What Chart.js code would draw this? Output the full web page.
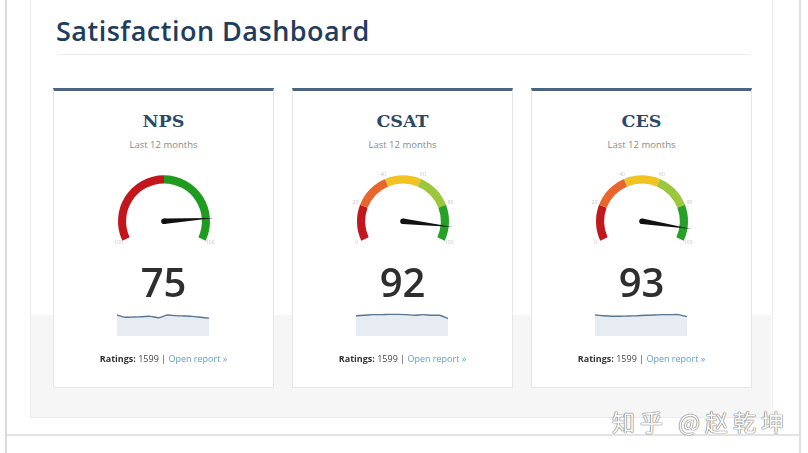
<!DOCTYPE html>
<html>
<head>
<meta charset="utf-8">
<script src="https://cdn.jsdelivr.net/npm/chart.js@4"></script>
<style>
  body { margin: 0; width: 808px; height: 453px; background: #fff; position: relative; overflow: hidden; font-family: "Open Sans", sans-serif; }
  .abs { position: absolute; }
  .line-left { left: 5px; top: 0; width: 2px; height: 453px; background: #dadada; }
  .line-right { left: 799px; top: 0; width: 2px; height: 453px; background: #dedede; }
  .line-bottom { left: 7px; top: 434px; width: 792px; height: 2px; background: #e3e3e3; }
  .panel { left: 30px; top: -1px; width: 741px; height: 418px; border: 1px solid #ececec; border-top: none; background: #fff; }
  .band { left: 31px; top: 315px; width: 740px; height: 102px; background: #f6f6f6; }
  .title { left: 56px; top: 12px; font-size: 27px; font-weight: 600; color: #1f3d5e; letter-spacing: 0.5px; }
  .title-rule { left: 58px; top: 54px; width: 692px; height: 1px; background: #ebebeb; }
  .card { top: 88px; width: 219px; height: 296px; background: #fff; border: 1px solid #e6e6e6; border-top: 3px solid #4a6482; }
  .card-title { left: 0; width: 100%; top: 20px; text-align: center; font-family: "DejaVu Serif", serif; font-weight: bold; font-size: 17.5px; color: #2d4866; }
  .card-sub { left: 0; width: 100%; top: 47px; text-align: center; font-size: 9.5px; color: #8a8a8a; }
  .score { left: 0; width: 100%; top: 163px; text-align: center; font-size: 40px; font-weight: 600; color: #2e2e2e; }
  .ratings { left: 0; width: 100%; top: 261px; text-align: center; font-size: 9px; color: #444; }
  .ratings b { color: #333; }
  .ratings a { color: #5a9fd8; text-decoration: none; }
  .watermark { left: 612px; top: 404px; font-family: "Noto Sans CJK SC", sans-serif; font-size: 23px; color: #fbfbfb; text-shadow: 0 0 1px #6f6f6f, 0 0 1px #6f6f6f, 0 0 1px #6f6f6f; letter-spacing: 5px; white-space: nowrap; }
</style>
</head>
<body>
<div class="abs line-left"></div>
<div class="abs panel"></div>
<div class="abs band"></div>
<div class="abs line-right"></div>
<div class="abs line-bottom"></div>
<div class="abs title">Satisfaction Dashboard</div>
<div class="abs title-rule"></div>
<div id="cards"></div>
<div class="abs watermark">知乎 @赵乾坤</div>

<script>
const gaugeNames = ["NPS", "CSAT", "CES"];
const scores = [75, 92, 93];
const ratings = [1599, 1599, 1599];
const months = ["Jan", "Feb", "Mar", "Apr", "May", "Jun", "Jul", "Aug", "Sep", "Oct", "Nov", "Dec"];

// gauge band edges and tick labels
const npsBands = [-100, 0, 100];
const npsBandColors = ["#c2161c", "#1f9b1f"];
const npsTicks = [-100, 100];
const scoreBands = [0, 20, 40, 60, 80, 100];
const scoreBandColors = ["#c0181d", "#e8652b", "#f0c323", "#9cc63b", "#26a026"];
const scoreTicks = [0, 20, 40, 60, 80, 100];

// monthly trend, last 12 months
const npsTrend = [83, 63, 65, 68, 71, 59, 83, 77, 74, 71, 63, 55];
const csatTrend = [88, 90, 93, 93, 94, 94, 93, 90, 93, 90, 90, 76];
const cesTrend = [91, 88, 86, 86, 87, 88, 90, 91, 93, 93, 93, 84];

const cardLefts = [53, 292, 531];
const ROT = -115, CIRC = 230, RADIUS = 46;

const gauges = [
  { bands: npsBands, colors: npsBandColors, ticks: npsTicks, trend: npsTrend },
  { bands: scoreBands, colors: scoreBandColors, ticks: scoreTicks, trend: csatTrend },
  { bands: scoreBands, colors: scoreBandColors, ticks: scoreTicks, trend: cesTrend }
];

const needlePlugin = {
  id: "needle",
  afterDatasetsDraw(chart) {
    const g = chart.config.options.plugins.needle;
    const arc = chart.getDatasetMeta(0).data[0];
    const cx = arc.x, cy = arc.y, r = arc.outerRadius;
    const min = g.bands[0], max = g.bands[g.bands.length - 1];
    const toAngle = v => (ROT - 90 + (v - min) / (max - min) * CIRC) * Math.PI / 180;
    const ctx = chart.ctx;
    ctx.save();
    // tick labels
    ctx.fillStyle = "#c4c4c4";
    ctx.font = "5px 'Open Sans'";
    ctx.textAlign = "center";
    ctx.textBaseline = "middle";
    g.ticks.forEach(t => {
      const a = toAngle(t);
      ctx.fillText(String(t), cx + Math.cos(a) * (r + 5), cy + Math.sin(a) * (r + 5));
    });
    // needle
    const a = toAngle(g.value);
    const len = r + 4;
    const w = 2.8;
    ctx.fillStyle = "#111";
    ctx.beginPath();
    ctx.moveTo(cx + Math.cos(a + Math.PI / 2) * w, cy + Math.sin(a + Math.PI / 2) * w);
    ctx.lineTo(cx + Math.cos(a) * len, cy + Math.sin(a) * len);
    ctx.lineTo(cx + Math.cos(a - Math.PI / 2) * w, cy + Math.sin(a - Math.PI / 2) * w);
    ctx.closePath();
    ctx.fill();
    ctx.beginPath();
    ctx.arc(cx, cy, w, 0, Math.PI * 2);
    ctx.fill();
    ctx.restore();
  }
};

function makeCard(i) {
  const card = document.createElement("div");
  card.className = "abs card";
  card.style.left = cardLefts[i] + "px";
  card.innerHTML =
    `<div class="abs card-title">${gaugeNames[i]}</div>` +
    `<div class="abs card-sub">Last 12 months</div>` +
    `<canvas class="abs" id="gauge${i}" width="130" height="100" style="left:45px;top:67px"></canvas>` +
    `<div class="abs score">${scores[i]}</div>` +
    `<canvas class="abs" id="spark${i}" width="92" height="23" style="left:63px;top:222px"></canvas>` +
    `<div class="abs ratings"><b>Ratings:</b> ${ratings[i]} | <a>Open report »</a></div>`;
  document.getElementById("cards").appendChild(card);
}

function drawGauge(i) {
  const g = gauges[i];
  const widths = g.bands.slice(1).map((b, k) => b - g.bands[k]);
  new Chart(document.getElementById("gauge" + i), {
    type: "doughnut",
    data: {
      labels: widths.map((w, k) => g.bands[k] + "–" + g.bands[k + 1]),
      datasets: [{ data: widths, backgroundColor: g.colors, borderWidth: 0 }]
    },
    options: {
      responsive: false,
      animation: false,
      rotation: ROT,
      circumference: CIRC,
      radius: RADIUS,
      cutout: RADIUS - 4.8,
      plugins: {
        legend: { display: false },
        tooltip: { enabled: false },
        needle: { value: scores[i], bands: g.bands, ticks: g.ticks }
      }
    },
    plugins: [needlePlugin]
  });
}

function drawSpark(i) {
  const g = gauges[i];
  new Chart(document.getElementById("spark" + i), {
    type: "line",
    data: {
      labels: months,
      datasets: [{
        data: g.trend,
        borderColor: "#5a7590",
        borderWidth: 1.4,
        backgroundColor: "#e7ecf2",
        fill: "start",
        pointRadius: 0,
        tension: 0.2
      }]
    },
    options: {
      responsive: false,
      animation: false,
      layout: { padding: 0 },
      scales: {
        x: { display: false },
        y: { display: false, min: g.bands[0], max: g.bands[g.bands.length - 1] }
      },
      plugins: { legend: { display: false }, tooltip: { enabled: false } }
    }
  });
}

gaugeNames.forEach((n, i) => {
  makeCard(i);
  drawGauge(i);
  drawSpark(i);
});
</script>
</body>
</html>
